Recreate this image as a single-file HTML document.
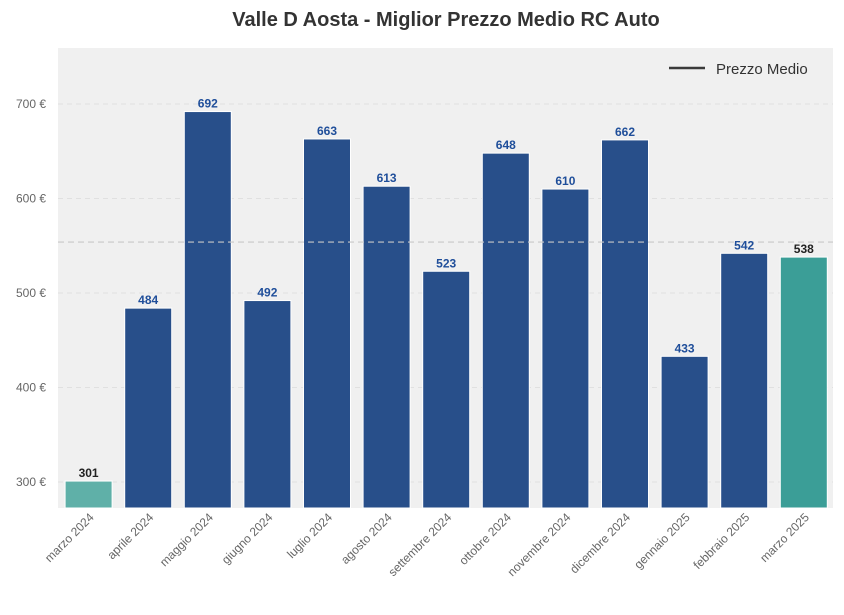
<!DOCTYPE html>
<html><head><meta charset="utf-8"><style>
body{margin:0;background:#fff;font-family:"Liberation Sans",Arial,sans-serif}
</style></head><body>
<svg id="chart" width="844" height="610" xmlns="http://www.w3.org/2000/svg" font-family="Liberation Sans, Arial, sans-serif">
<text x="446" y="26" text-anchor="middle" font-size="20" font-weight="bold" fill="#333">Valle D Aosta - Miglior Prezzo Medio RC Auto</text>
<rect x="58" y="48" width="775" height="460" fill="#f0f0f0"/>
<g id="grid"></g><g id="bars"></g><g id="labels"></g><g id="xt"></g>
<g>
<line x1="669" y1="68" x2="705" y2="68" stroke="#3a3a3a" stroke-width="2.5"/>
<text x="716" y="74" font-size="15" fill="#333">Prezzo Medio</text>
</g>
</svg>
<script>
const categories=["marzo 2024","aprile 2024","maggio 2024","giugno 2024","luglio 2024","agosto 2024","settembre 2024","ottobre 2024","novembre 2024","dicembre 2024","gennaio 2025","febbraio 2025","marzo 2025"];
const values=[301,484,692,492,663,613,523,648,610,662,433,542,538];
const yTicks=[300,400,500,600,700];
const NS="http://www.w3.org/2000/svg";
const x0=58.8,band=59.6,bw=47;
const y=v=>482-(v-300)*0.945;
function mk(t,a,p){const e=document.createElementNS(NS,t);for(const k in a)e.setAttribute(k,a[k]);p.appendChild(e);return e;}
const grid=document.getElementById('grid'),bars=document.getElementById('bars'),labels=document.getElementById('labels'),xt=document.getElementById('xt');
yTicks.forEach(v=>{
 const l=mk('line',{x1:58,x2:833,y1:y(v),y2:y(v),stroke:'#e0e0e0','stroke-dasharray':'5,4'},grid);
 
 
 const t=mk('text',{x:46,y:y(v)+4,'text-anchor':'end','font-size':12,fill:'#666'},grid);
 t.textContent=v+' €';
 
 
});
const mean=values.reduce((a,b)=>a+b,0)/values.length;
values.forEach((v,i)=>{
 const cx=x0+band*(i+0.5);
 const last=i===values.length-1,first=i===0;
 const fill=first?'#5fb0a8':last?'#3b9e97':'#284f8a';
 const r=mk('rect',{x:cx-bw/2,y:y(v),width:bw,height:508-y(v),fill:fill,stroke:'#fff','stroke-width':1},bars);
 
 
 const t=mk('text',{x:cx,y:y(v)-4,'text-anchor':'middle','font-size':12,'font-weight':'bold',fill:(first||last)?'#222':'#1f4e9a'},labels);
 t.textContent=v;
 
 
 const xl=mk('text',{transform:`translate(${cx+6},${518}) rotate(-45)`,'text-anchor':'end','font-size':12,fill:'#666'},xt);
 xl.textContent=categories[i];
 
 
});
const ml=mk('line',{x1:58,x2:833,y1:y(mean),y2:y(mean),stroke:'#c8c8c8','stroke-dasharray':'6,4','stroke-width':1.2},bars);


</script>
</body></html>
